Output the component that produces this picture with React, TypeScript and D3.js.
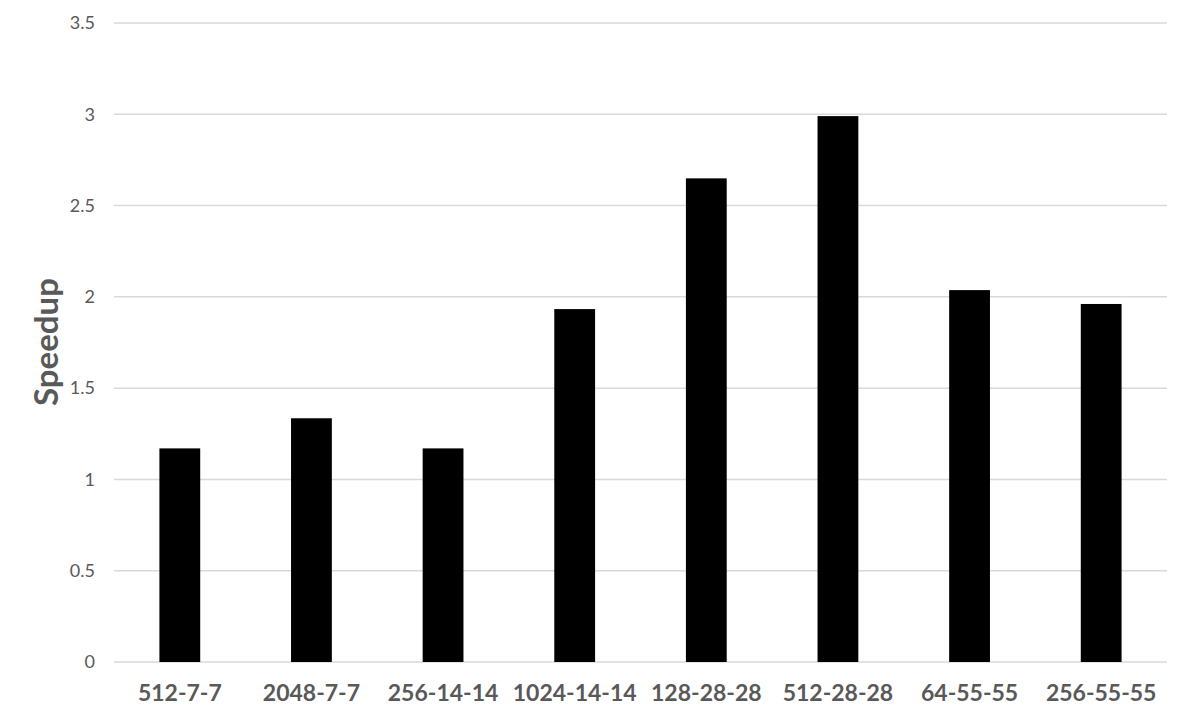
import React, { useEffect, useRef } from "react";
import * as d3 from "d3";

// shapes (channels-height-width) and their measured speedup
const categories = [
  "512-7-7",
  "2048-7-7",
  "256-14-14",
  "1024-14-14",
  "128-28-28",
  "512-28-28",
  "64-55-55",
  "256-55-55",
];
const speedup = [1.17, 1.335, 1.17, 1.933, 2.649, 2.99, 2.037, 1.961];
const yTicks = [0, 0.5, 1, 1.5, 2, 2.5, 3, 3.5];

const W = 1187;
const H = 722;
const margin = { top: 23, right: 20, bottom: 60, left: 114 };

const App = () => {
  const ref = useRef<SVGSVGElement>(null);

  useEffect(() => {
    const svg = d3.select(ref.current);
    svg.selectAll("*").remove();

    const x = d3
      .scaleBand()
      .domain(categories)
      .range([margin.left, W - margin.right])
      .paddingInner(0.69)
      .paddingOuter(0.345);
    const y = d3
      .scaleLinear()
      .domain([0, 3.5])
      .range([H - margin.bottom, margin.top]);

    const font = "Lato, 'Open Sans', sans-serif";

    // gridlines
    svg
      .append("g")
      .selectAll("line")
      .data(yTicks)
      .join("line")
      .attr("x1", margin.left)
      .attr("x2", W - margin.right)
      .attr("y1", (d) => y(d))
      .attr("y2", (d) => y(d))
      .attr("stroke", "#d9d9d9")
      .attr("stroke-width", 1.5);

    // y tick labels
    svg
      .append("g")
      .selectAll("text")
      .data(yTicks)
      .join("text")
      .attr("x", 95)
      .attr("y", (d) => y(d))
      .attr("dy", "0.35em")
      .attr("text-anchor", "end")
      .attr("font-family", font)
      .attr("font-size", 18)
      .attr("fill", "#595959")
      .text((d) => String(d));

    // bars
    svg
      .append("g")
      .selectAll("rect")
      .data(speedup)
      .join("rect")
      .attr("x", (d, i) => x(categories[i]))
      .attr("width", x.bandwidth())
      .attr("y", (d) => y(d))
      .attr("height", (d) => y(0) - y(d))
      .attr("fill", "#000");

    // category labels
    svg
      .append("g")
      .selectAll("text")
      .data(categories)
      .join("text")
      .attr("x", (d) => x(d) + x.bandwidth() / 2)
      .attr("y", 701)
      .attr("text-anchor", "middle")
      .attr("font-family", font)
      .attr("font-size", 23)
      .attr("font-weight", "bold")
      .attr("fill", "#595959")
      .text((d) => d);

    // axis title
    svg
      .append("text")
      .attr("transform", "translate(58, 342) rotate(-90)")
      .attr("text-anchor", "middle")
      .attr("font-family", font)
      .attr("font-size", 33)
      .attr("font-weight", "bold")
      .attr("fill", "#595959")
      .text("Speedup");
  }, []);

  return (
    <svg
      ref={ref}
      width={W}
      height={H}
      style={{ position: "absolute", left: 0, top: 0, background: "white" }}
    />
  );
};

export default App;
